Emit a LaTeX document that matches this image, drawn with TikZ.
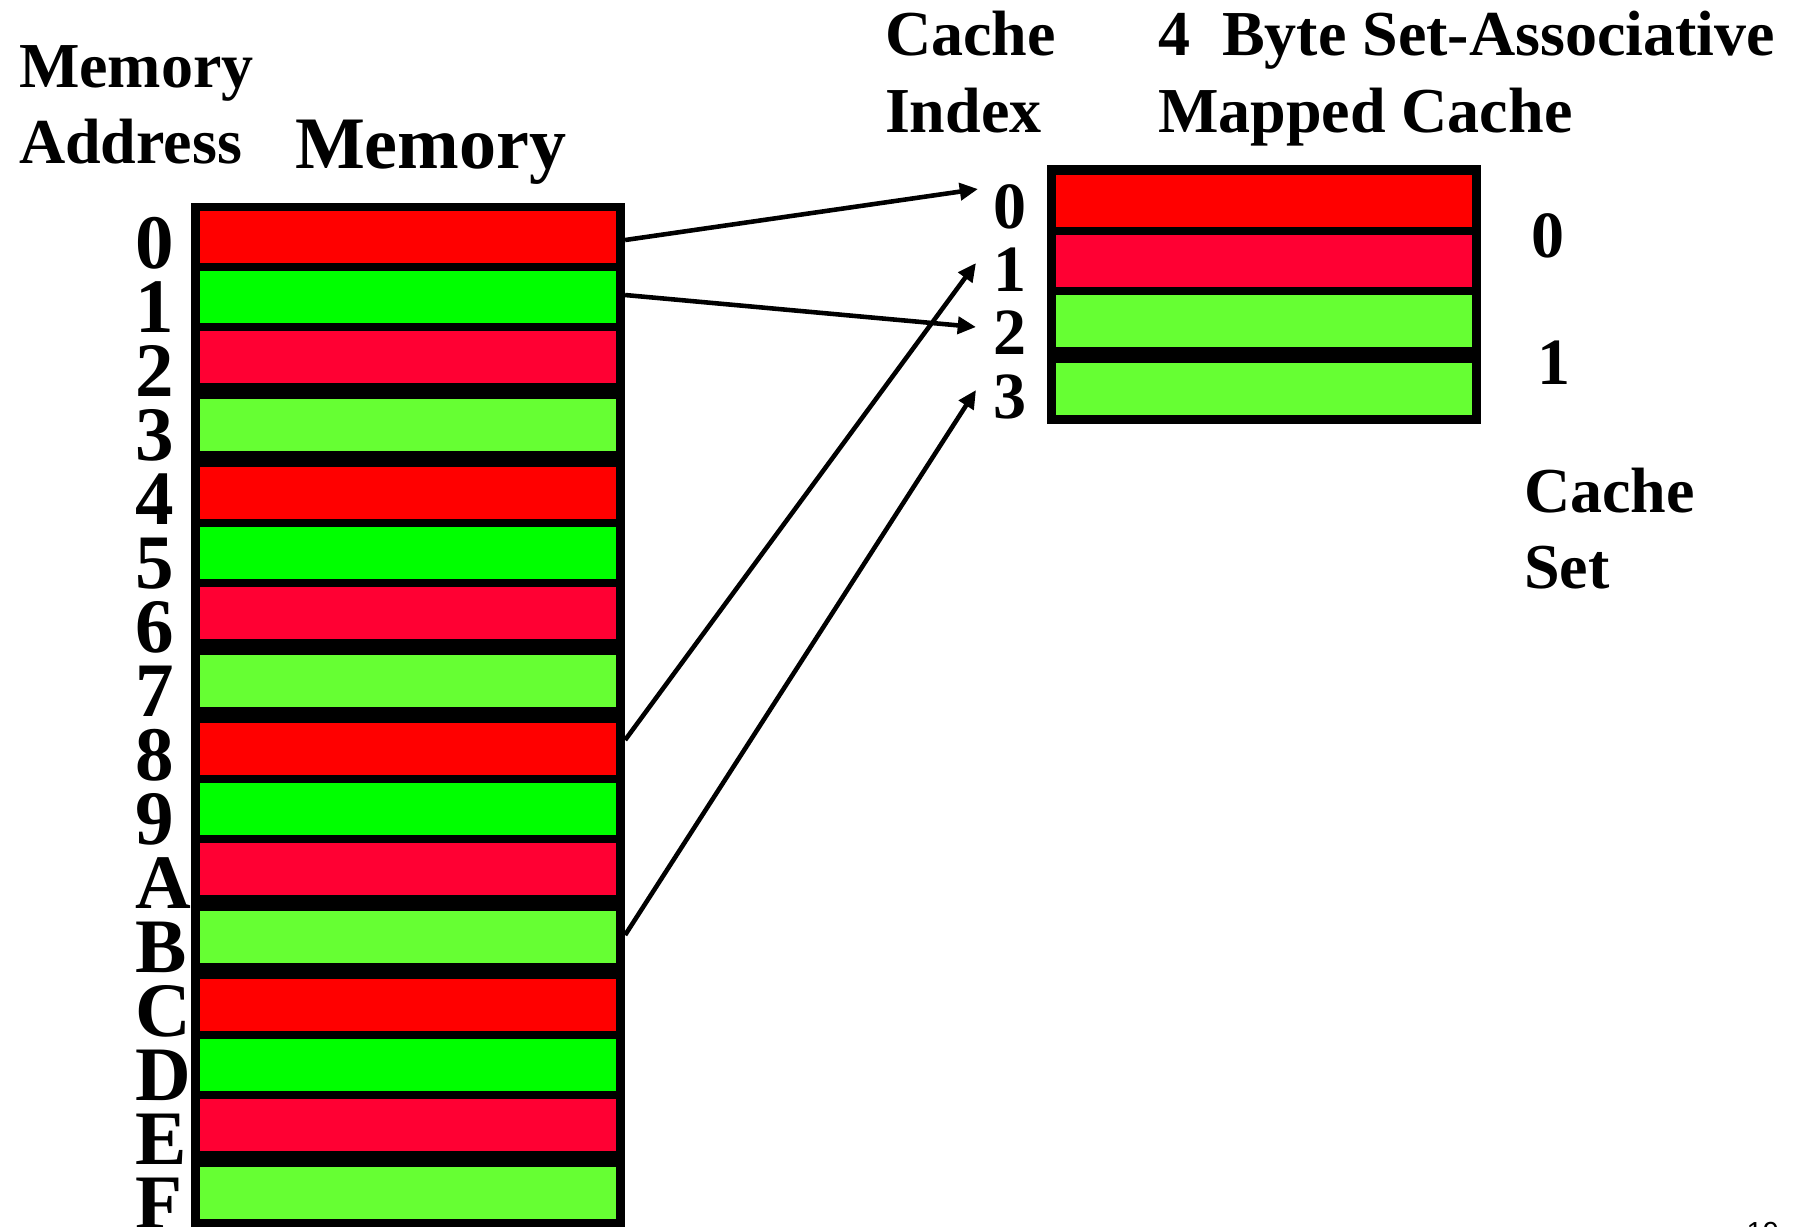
\documentclass[tikz,border=0pt]{standalone}
\usepackage{fontspec}
\setmainfont{Liberation Serif}
\newfontfamily\pagenumfont{Liberation Sans}
\usetikzlibrary{arrows.meta,calc}
\definecolor{cred}{HTML}{FF0000}
\definecolor{cgrn}{HTML}{00FF00}
\definecolor{cpred}{HTML}{FF0033}
\definecolor{clgrn}{HTML}{66FF33}
\begin{document}
\begin{tikzpicture}[x=0.01cm,y=-0.01cm,
  memrow/.style={draw=none,inner sep=0pt,outer sep=0pt,minimum width=4.16cm,minimum height=0.52cm},
  blackframe/.style={fill=black,draw=none,inner sep=0pt,outer sep=0pt,anchor=north west},
  headlbl/.style={inner sep=0pt,outer sep=0pt,anchor=base west,font=\bfseries\fontsize{18.21pt}{18.21pt}\selectfont},
  bigtitle/.style={inner sep=0pt,outer sep=0pt,anchor=base west,font=\bfseries\fontsize{21.05pt}{21.05pt}\selectfont},
  addrlbl/.style={inner sep=0pt,outer sep=0pt,anchor=base west,font=\bfseries\fontsize{21.91pt}{21.91pt}\selectfont},
  idxlbl/.style={inner sep=0pt,outer sep=0pt,anchor=base west,font=\bfseries\fontsize{18.78pt}{18.78pt}\selectfont},
  maplink/.style={line width=1.3pt,-{Triangle[length=5.2pt,width=4.8pt]}}]
\useasboundingbox (0,0) rectangle (1799,1226);

% headings
\node[headlbl] (hmem1) at (19,87) {Memory};
\node[headlbl] (hmem2) at (19,163) {Address};
\node[bigtitle] (hmemory) at (295,168) {Memory};
\node[headlbl] (hci1) at (885,55) {Cache};
\node[headlbl] (hci2) at (885,132) {Index};
\node[headlbl] (hcache1) at (1158,55) {4\ \ Byte Set-Associative};
\node[headlbl] (hcache2) at (1158,132) {Mapped Cache};
\node[headlbl] (hset1) at (1524,512) {Cache};
\node[headlbl] (hset2) at (1524,588) {Set};

% memory
\node[blackframe, minimum width=4.34cm, minimum height=10.37cm] (mem) at (191,203) {};
\node[memrow, fill=cred]  (m0) at (408,237) {};
\node[memrow, fill=cgrn]  (m1) at (408,297) {};
\node[memrow, fill=cpred] (m2) at (408,357) {};
\node[memrow, fill=clgrn] (m3) at (408,425) {};
\node[memrow, fill=cred]  (m4) at (408,493) {};
\node[memrow, fill=cgrn]  (m5) at (408,553) {};
\node[memrow, fill=cpred] (m6) at (408,613) {};
\node[memrow, fill=clgrn] (m7) at (408,681) {};
\node[memrow, fill=cred]  (m8) at (408,749) {};
\node[memrow, fill=cgrn]  (m9) at (408,809) {};
\node[memrow, fill=cpred] (mA) at (408,869) {};
\node[memrow, fill=clgrn] (mB) at (408,937) {};
\node[memrow, fill=cred]  (mC) at (408,1005) {};
\node[memrow, fill=cgrn]  (mD) at (408,1065) {};
\node[memrow, fill=cpred] (mE) at (408,1125) {};
\node[memrow, fill=clgrn] (mF) at (408,1193) {};

% memory addresses
\foreach \n [count=\k from 0] in {0,1,2,3,4,5,6,7,8,9,A,B,C,D,E,F}
  \node[addrlbl] (a\n) at (136,{268+64*\k}) {\n};

% cache
\node[blackframe, minimum width=4.34cm, minimum height=2.59cm] (cache) at (1047,165) {};
\node[memrow, fill=cred]  (c0) at (1264,201) {};
\node[memrow, fill=cpred] (c1) at (1264,261) {};
\node[memrow, fill=clgrn] (c2) at (1264,321) {};
\node[memrow, fill=clgrn] (c3) at (1264,389) {};

% cache index
\node[idxlbl] (i0) at (993,228) {0};
\node[idxlbl] (i1) at (993,291) {1};
\node[idxlbl] (i2) at (993,354) {2};
\node[idxlbl] (i3) at (993,418) {3};

% cache set
\node[idxlbl] (s0) at (1531,257) {0};
\node[idxlbl] (s1) at (1537,384) {1};

% page number
\node[inner sep=0pt, anchor=base west, font=\pagenumfont\fontsize{8.25pt}{8.25pt}\selectfont] (pnum) at (1746,1242) {19};

% connectors
\coordinate (st0) at ($(m0.east)+(9,3)$);
\coordinate (st1) at ($(m1.east)+(9,-2)$);
\coordinate (st8) at ($(m8.east)+(9,-9)$);
\coordinate (stB) at ($(mB.east)+(9,-2)$);
\coordinate (en0) at ($(i0.base west)+(-15,-39)$);
\coordinate (en1) at ($(i1.base west)+(-17,-28)$);
\coordinate (en2) at ($(i2.base west)+(-17,-27)$);
\coordinate (en3) at ($(i3.base west)+(-17,-28)$);
\draw[maplink] (st0) -- (en0);
\draw[maplink] (st1) -- (en2);
\draw[maplink] (st8) -- (en1);
\draw[maplink] (stB) -- (en3);
\end{tikzpicture}
\end{document}
